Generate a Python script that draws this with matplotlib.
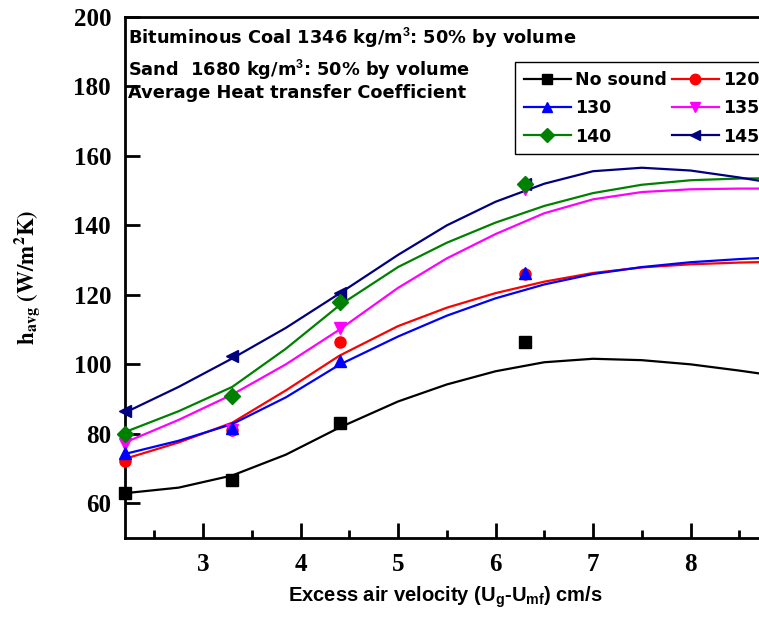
import numpy as np
import matplotlib.pyplot as plt
from matplotlib.ticker import MultipleLocator

plt.rcParams['mathtext.fontset'] = 'custom'
plt.rcParams['mathtext.rm'] = 'Liberation Sans:bold'
plt.rcParams['mathtext.it'] = 'Liberation Sans:bold'
plt.rcParams['mathtext.bf'] = 'Liberation Sans:bold'

# measured points (excess air velocity, cm/s)
u_meas = [2.2, 3.3, 4.4, 6.3]
h_nosound = [63.0, 66.6, 83.2, 106.3]
h_120 = [72.3, 81.0, 106.3, 126.0]
h_130 = [74.5, 81.8, 101.0, 126.2]
h_135 = [77.0, 81.2, 110.6, 150.6]
h_140 = [80.0, 91.0, 118.0, 152.0]
h_145 = [86.5, 102.5, 120.5, 152.0]

# fitted trend curves
u_fit = [2.2, 2.75, 3.3, 3.85, 4.4, 5.0, 5.5, 6.0, 6.5, 7.0, 7.5, 8.0, 8.5, 9.0]
fit_nosound = [62.9, 64.5, 68.0, 74.0, 81.8, 89.3, 94.2, 98.0, 100.6, 101.6, 101.2, 100.0, 98.2, 96.2]
fit_120 = [72.8, 77.5, 83.2, 92.5, 102.5, 111.0, 116.3, 120.5, 123.8, 126.3, 127.9, 128.8, 129.3, 129.6]
fit_130 = [74.2, 78.0, 82.8, 90.5, 99.9, 108.0, 114.0, 119.0, 123.0, 126.0, 128.0, 129.4, 130.3, 131.0]
fit_135 = [77.5, 84.0, 91.3, 100.0, 110.0, 122.0, 130.5, 137.5, 143.5, 147.5, 149.6, 150.4, 150.6, 150.6]
fit_140 = [80.5, 86.5, 93.5, 104.5, 117.0, 128.0, 135.0, 140.8, 145.6, 149.3, 151.7, 153.0, 153.5, 153.6]
fit_145 = [86.1, 93.5, 101.7, 110.5, 120.4, 131.5, 140.0, 146.8, 152.0, 155.6, 156.6, 155.8, 153.8, 151.5]

labels = ['No sound', '120', '130', '135', '140', '145']
colors = ['black', 'red', 'blue', 'magenta', 'green', '#000080']
markers = ['s', 'o', '^', 'v', 'D', '<']
points = [h_nosound, h_120, h_130, h_135, h_140, h_145]
fits = [fit_nosound, fit_120, fit_130, fit_135, fit_140, fit_145]
marker_z = [3.0, 3.1, 3.3, 3.2, 3.5, 3.4]

fig = plt.figure(figsize=(7.59, 6.29), dpi=100)
# axes runs a little past the right edge of the figure
ax = fig.add_axes([125/759, 91/629, 663/759, 521/629])

handles = []
for lab, c, m, pts, fit, z in zip(labels, colors, markers, points, fits, marker_z):
    ax.plot(u_fit, fit, color=c, linewidth=1.6, zorder=2, solid_joinstyle='round')
    ax.plot(u_meas, pts, linestyle='none', marker=m, color=c, markersize=8, zorder=z,
            clip_on=False)
    h, = ax.plot([], [], color=c, marker=m, markersize=7.5, linewidth=1.6, label=lab)
    handles.append(h)

ax.set_xlim(2.2, 9.0)
ax.set_ylim(50, 200)
ax.set_xticks([3, 4, 5, 6, 7, 8])
ax.xaxis.set_minor_locator(MultipleLocator(0.5))
ax.set_yticks(range(60, 201, 20))

for s in ax.spines.values():
    s.set_linewidth(2)
ax.tick_params(which='major', direction='in', length=11, width=2)
ax.tick_params(which='minor', direction='in', length=6, width=2)
ax.tick_params(axis='y', pad=10)
ax.tick_params(axis='x', pad=11)
for t in ax.get_xticklabels() + ax.get_yticklabels():
    t.set_fontfamily('Liberation Serif')
    t.set_fontweight('bold')
    t.set_fontsize(18)

fig.text(445/759, 1 - 597/629, r'Excess air velocity (U$_{g}$-U$_{mf}$) cm/s',
         family='Liberation Sans', weight='bold', fontsize=14.5, ha='center', va='center')
fig.text(27/759, 1 - 277/629, r'$\mathbf{h_{avg}\ (W/m^{2}K)}$', math_fontfamily='stix',
         fontsize=16.5, rotation=90, ha='center', va='center')

note = dict(family='DejaVu Sans', weight='bold', fontsize=12.8, ha='left', va='center',
            transform=fig.transFigure)
fig.text(128/759, 1 - 38/629, r'Bituminous Coal 1346 kg/m$^{3}$: 50% by volume', **note)
fig.text(128/759, 1 - 70/629, r'Sand  1680 kg/m$^{3}$: 50% by volume', **note)
fig.text(128/759, 1 - 93/629, 'Average Heat transfer Coefficient', **note)

order = [0, 2, 4, 1, 3, 5]
leg = fig.legend([handles[i] for i in order], [labels[i] for i in order], ncol=2,
                 loc='upper left', bbox_to_anchor=(515/759, 1 - 62/629), borderaxespad=0,
                 prop={'family': 'DejaVu Sans', 'weight': 'bold', 'size': 12.5},
                 fancybox=False, edgecolor='black', framealpha=1,
                 handlelength=2.7, handletextpad=0.25, columnspacing=0.3,
                 labelspacing=0.6, borderpad=0.5)
leg.get_frame().set_linewidth(1)

plt.savefig('out.png', dpi=100)
